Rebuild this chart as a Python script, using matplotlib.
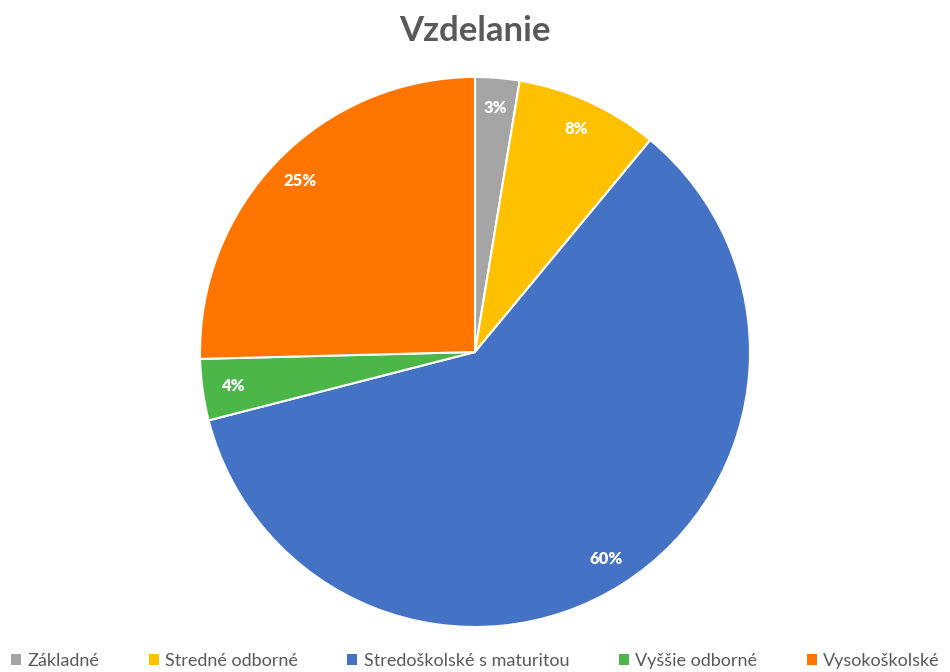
import matplotlib
matplotlib.use('Agg')
import matplotlib.pyplot as plt
from matplotlib.patches import Patch

plt.rcParams['font.family'] = ['Lato', 'DejaVu Sans']

kategorie = ['Základné', 'Stredné odborné', 'Stredoškolské s maturitou', 'Vyššie odborné', 'Vysokoškolské']
hodnoty = [2.6, 8.4, 60.0, 3.6, 25.4]
farby = ['#A5A5A5', '#FFC000', '#4472C4', '#4DB649', '#FF7500']

fig = plt.figure(figsize=(9.5, 6.72), dpi=100)
ax = fig.add_axes([200 / 950, 45 / 672, 550 / 950, 550 / 672])

wedges, texts, autotexts = ax.pie(
    hodnoty, colors=farby, startangle=90, counterclock=False,
    autopct='%1.0f%%', pctdistance=0.89, radius=1,
    wedgeprops=dict(edgecolor='white', linewidth=1.5),
)
for t in autotexts:
    t.set_color('white')
    t.set_fontweight('heavy')
    t.set_fontsize(12)
ax.set_xlim(-1, 1)
ax.set_ylim(-1, 1)
ax.set_aspect('equal')

fig.text(0.5, 1 - 31 / 672, 'Vzdelanie', ha='center', va='center',
         fontsize=25, fontweight='bold', color='#595959')

handles = [Patch(facecolor=c, edgecolor='none') for c in farby]
fig.legend(handles, kategorie, loc='center left', bbox_to_anchor=(0.0, 1 - 661 / 672),
           ncol=5, frameon=False, fontsize=13, handlelength=0.55, handleheight=0.55,
           handletextpad=0.35, columnspacing=2.75, labelcolor='#595959', borderaxespad=0.2)

fig.savefig('out.png', dpi=100)
